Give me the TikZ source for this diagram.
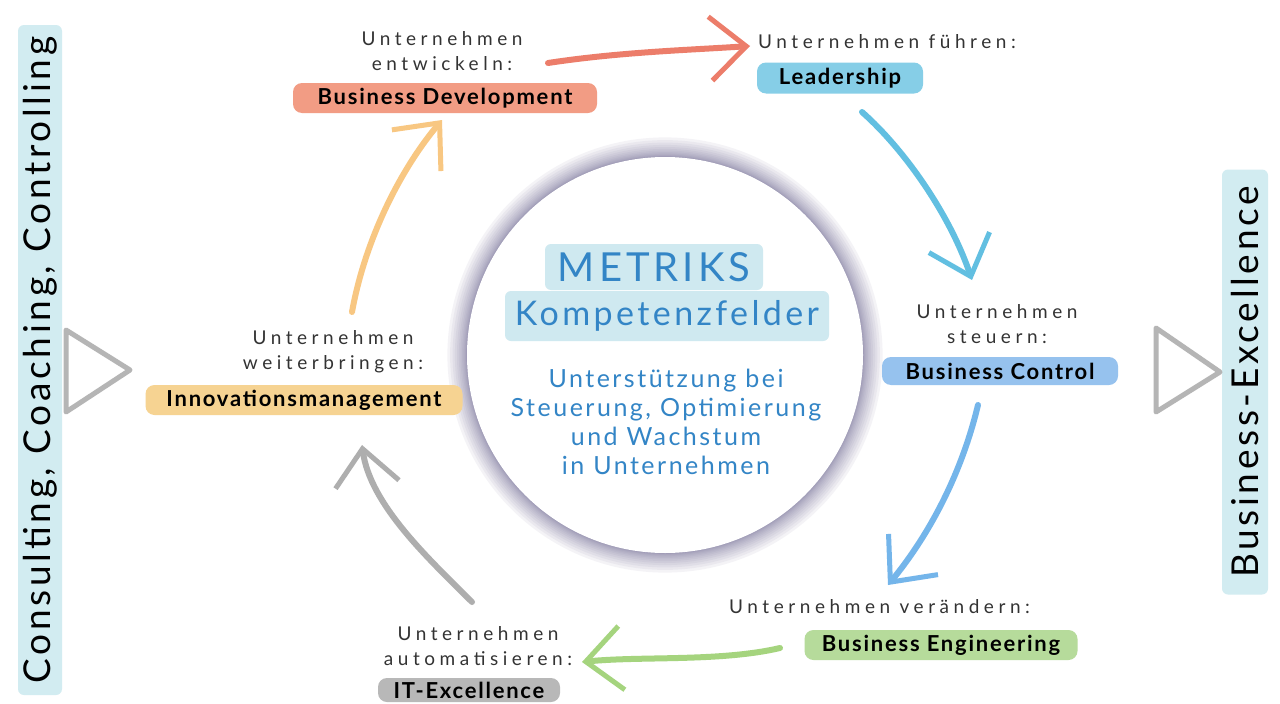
\documentclass[tikz,border=0pt]{standalone}
\usepackage{fontspec}
\setmainfont{Lato}
\newfontfamily\hand[LetterSpace=24]{Lato}
\newfontfamily\handw[LetterSpace=10]{Lato}
\newfontfamily\handb[LetterSpace=8]{Lato}
\usetikzlibrary{arrows.meta}
\definecolor{bandc}{HTML}{D2ECF1}
\definecolor{haloc}{HTML}{6E6892}
\definecolor{txtc}{HTML}{333333}
\definecolor{bluet}{HTML}{3385C6}
\definecolor{metc}{HTML}{CFE9F0}
\definecolor{bdc}{HTML}{F29C84}
\definecolor{redc}{HTML}{EC7D6A}
\definecolor{ldc}{HTML}{86CEE7}
\definecolor{bluea}{HTML}{62BFE1}
\definecolor{bcc}{HTML}{96C2EE}
\definecolor{blueb}{HTML}{74B5EA}
\definecolor{bec}{HTML}{B6DB9B}
\definecolor{greenc}{HTML}{A5D47E}
\definecolor{itc}{HTML}{B8B8B8}
\definecolor{grayc}{HTML}{AEAEAE}
\definecolor{inc}{HTML}{F6D392}
\definecolor{orc}{HTML}{F8C782}
\definecolor{trc}{HTML}{B5B5B5}
\begin{document}
\begin{tikzpicture}[x=1pt,y=-1pt,
  hl/.style={rounded corners=9pt, inner sep=0pt, text=black,
    font=\handb\bfseries\fontsize{22}{26}\selectfont},
  lbl/.style={text=txtc, align=center, inner sep=0pt,
    font=\hand\fontsize{19}{25}\selectfont},
  band/.style={fill=bandc, rounded corners=6pt, inner sep=0pt, text=black,
    rotate=90, font=\handw\fontsize{37}{42}\selectfont},
  arr/.style={line width=6pt, line cap=round,
    -{Straight Barb[length=36pt,width=64pt,line width=5pt]}},
  tri/.style={draw=trc, line width=5pt, line join=round}
]
\useasboundingbox (0,0) rectangle (1280,704);
\fill[white] (0,0) rectangle (1280,704);

% side bands
\node[band, minimum width=670, minimum height=44] (lb) at (40,360)
  {Consulting, Coaching, Controlling};
\node[band, minimum width=425, minimum height=46] (rb) at (1245,382)
  {Business-Excellence};

% triangles
\coordinate (lt1) at (66,330); \coordinate (lt2) at (66,412); \coordinate (lt3) at (130,370);
\draw[tri] (lt1) -- (lt2) -- (lt3) -- cycle;
\coordinate (rt1) at (1156,328); \coordinate (rt2) at (1156,412); \coordinate (rt3) at (1220,372);
\draw[tri] (rt1) -- (rt2) -- (rt3) -- cycle;

% central circle with halo
\foreach \i in {0,...,14}
  \fill[haloc, opacity=0.075] (665,355) circle[radius={(198+0.1*\i*\i)*1pt}];
\node[circle, fill=white, minimum size=396pt, inner sep=0pt] (c) at (665,355) {};
\node[fill=metc, rounded corners=6pt, minimum width=218, minimum height=46, inner sep=0pt,
  text=bluet, font=\handw\fontsize{40}{44}\selectfont] (met) at (654,267) {METRIKS};
\node[fill=metc, rounded corners=6pt, minimum width=324, minimum height=50, inner sep=0pt,
  text=bluet, font=\handw\fontsize{34}{40}\selectfont] (kf) at (667,316) {Kompetenzfelder};
\node[text=bluet, align=center, font=\handw\fontsize{25}{29}\selectfont] (body) at (666,422)
  {Unterstützung bei\\Steuerung, Optimierung\\und Wachstum\\in Unternehmen};

% fields
\node[hl, fill=bdc, minimum width=304, minimum height=30] (bd) at (445,98) {Business Development};
\node[lbl] (bdl) at (442,51) {Unternehmen\\entwickeln:};

\node[hl, fill=ldc, minimum width=166, minimum height=31] (ld) at (840,78) {Leadership};
\node[lbl, anchor=west] (ldl) at (758,42) {Unternehmen führen:};

\node[hl, fill=bcc, minimum width=236, minimum height=28] (bc) at (1000,371) {Business Control};
\node[lbl] (bcl) at (997,324) {Unternehmen\\steuern:};

\node[hl, fill=bec, minimum width=273, minimum height=30] (be) at (941,645) {Business Engineering};
\node[lbl, anchor=west] (bel) at (729,607) {Unternehmen verändern:};

\node[hl, fill=itc, minimum width=182, minimum height=24] (it) at (469,690) {IT-Excellence};
\node[lbl] (itl) at (478,646) {Unternehmen\\automatisieren:};

\node[hl, fill=inc, minimum width=317, minimum height=30] (in) at (304,400) {Innovationsmanagement};
\node[lbl] (inl) at (333,352) {Unternehmen\\weiterbringen:};

% arrows
\coordinate (r0) at (548,63); \coordinate (r1) at (750,46);
\draw[arr, redc] (r0) .. controls (620,52) and (690,50) .. (r1);
\coordinate (b0) at (862,112); \coordinate (b1) at (972,280);
\draw[arr, bluea] (b0) .. controls (905,150) and (950,215) .. (b1);
\coordinate (c0) at (978,405); \coordinate (c1) at (888,585);
\draw[arr, blueb] (c0) .. controls (960,480) and (925,540) .. (c1);
\coordinate (g0) at (780,648); \coordinate (g1) at (582,662);
\draw[arr, greenc] (g0) .. controls (720,662) and (640,656) .. (g1);
\coordinate (y0) at (472,602); \coordinate (y1) at (362,445);
\draw[arr, grayc] (y0) .. controls (430,560) and (370,505) .. (y1);
\coordinate (o0) at (352,312); \coordinate (o1) at (442,120);
\draw[arr, orc] (o0) .. controls (365,240) and (400,170) .. (o1);
\end{tikzpicture}
\end{document}
